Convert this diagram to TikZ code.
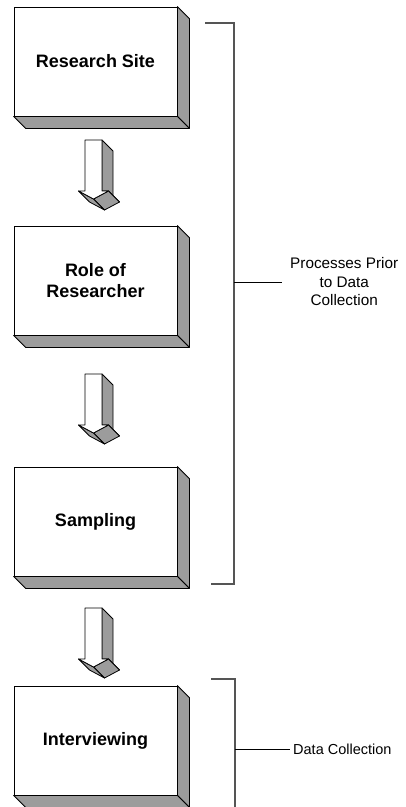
\documentclass[tikz,border=0pt]{standalone}
\usepackage{fontspec}
\setmainfont{Liberation Sans}
\usetikzlibrary{calc}
\definecolor{facegray}{HTML}{9C9C9C}
\definecolor{bracketgray}{HTML}{555555}
\tikzset{
  face/.style={fill=facegray, draw=black, line width=0.8pt, line join=round},
  flowarrow/.pic={
    \filldraw[face] (8.5,0) -- ++(11,11) -- ++(0,51) -- (8.5,51) -- cycle;
    \filldraw[face] (8.5,51) -- (15,51) -- ++(11,11) -- (19.5,62) -- cycle;
    \filldraw[face] (15,51) -- (0,59) -- ++(11,11) -- (26,62) -- cycle;
    \filldraw[face] (0,59) -- (-15,51) -- ++(11,11) -- (11,70) -- cycle;
    \filldraw[fill=white, draw=black, line width=0.8pt, line join=round]
      (-8.5,0) -- (8.5,0) -- (8.5,51) -- (15,51) -- (0,59) -- (-15,51) -- (-8.5,51) -- cycle;
  }
}

\begin{document}
\begin{tikzpicture}[
    x=1pt, y=-1pt,
    stage/.style={draw, line width=0.8pt, fill=white, minimum width=163pt, minimum height=109pt,
      inner sep=0pt, align=center, font=\fontsize{18}{21.5}\selectfont\bfseries},
    sidelabel/.style={anchor=west, align=center, inner ysep=0pt, font=\fontsize{15.3}{18.5}\selectfont},
    bracket/.style={draw=bracketgray, line width=1.6pt},
    tick/.style={draw=black, line width=0.8pt}
  ]
  \useasboundingbox (0,0) rectangle (406,807);

  % process boxes
  \node[stage] (site) at (95.5,61.5) {Research Site};
  \node[stage] (role) at (95.5,280.5) {Role of\\Researcher};
  \node[stage] (sampling) at (95.5,521.5) {Sampling};
  \node[stage] (interview) at (95.5,740.5) {Interviewing};

  % 3d sides of the boxes
  \foreach \n in {site,role,sampling,interview}{
    \filldraw[face] (\n.north east) -- ++(12,12) -- ($(\n.south east)+(12,12)$) -- (\n.south east) -- cycle;
    \filldraw[face] (\n.south west) -- ++(12,12) -- ($(\n.south east)+(12,12)$) -- (\n.south east) -- cycle;
  }

  % block arrows
  \pic at (93.5,140) {flowarrow};
  \pic at (93.5,374) {flowarrow};
  \pic at (93.5,608) {flowarrow};

  % brackets and labels
  \coordinate (priortick) at (234,282);
  \coordinate (colltick) at (235,749);
  \draw[bracket] (205,23) -| (234,584) -- (211,584);
  \draw[bracket] (211,679) -| (235,815);
  \node[sidelabel, inner xsep=8pt] (prior) at (282,282) {Processes Prior\\to Data\\Collection};
  \node[sidelabel, inner xsep=3pt, font=\fontsize{14.5}{18}\selectfont] (collect) at (290,749) {Data Collection};
  \draw[tick] (priortick) -- (prior.west);
  \draw[tick] (colltick) -- (collect.west);
\end{tikzpicture}
\end{document}
